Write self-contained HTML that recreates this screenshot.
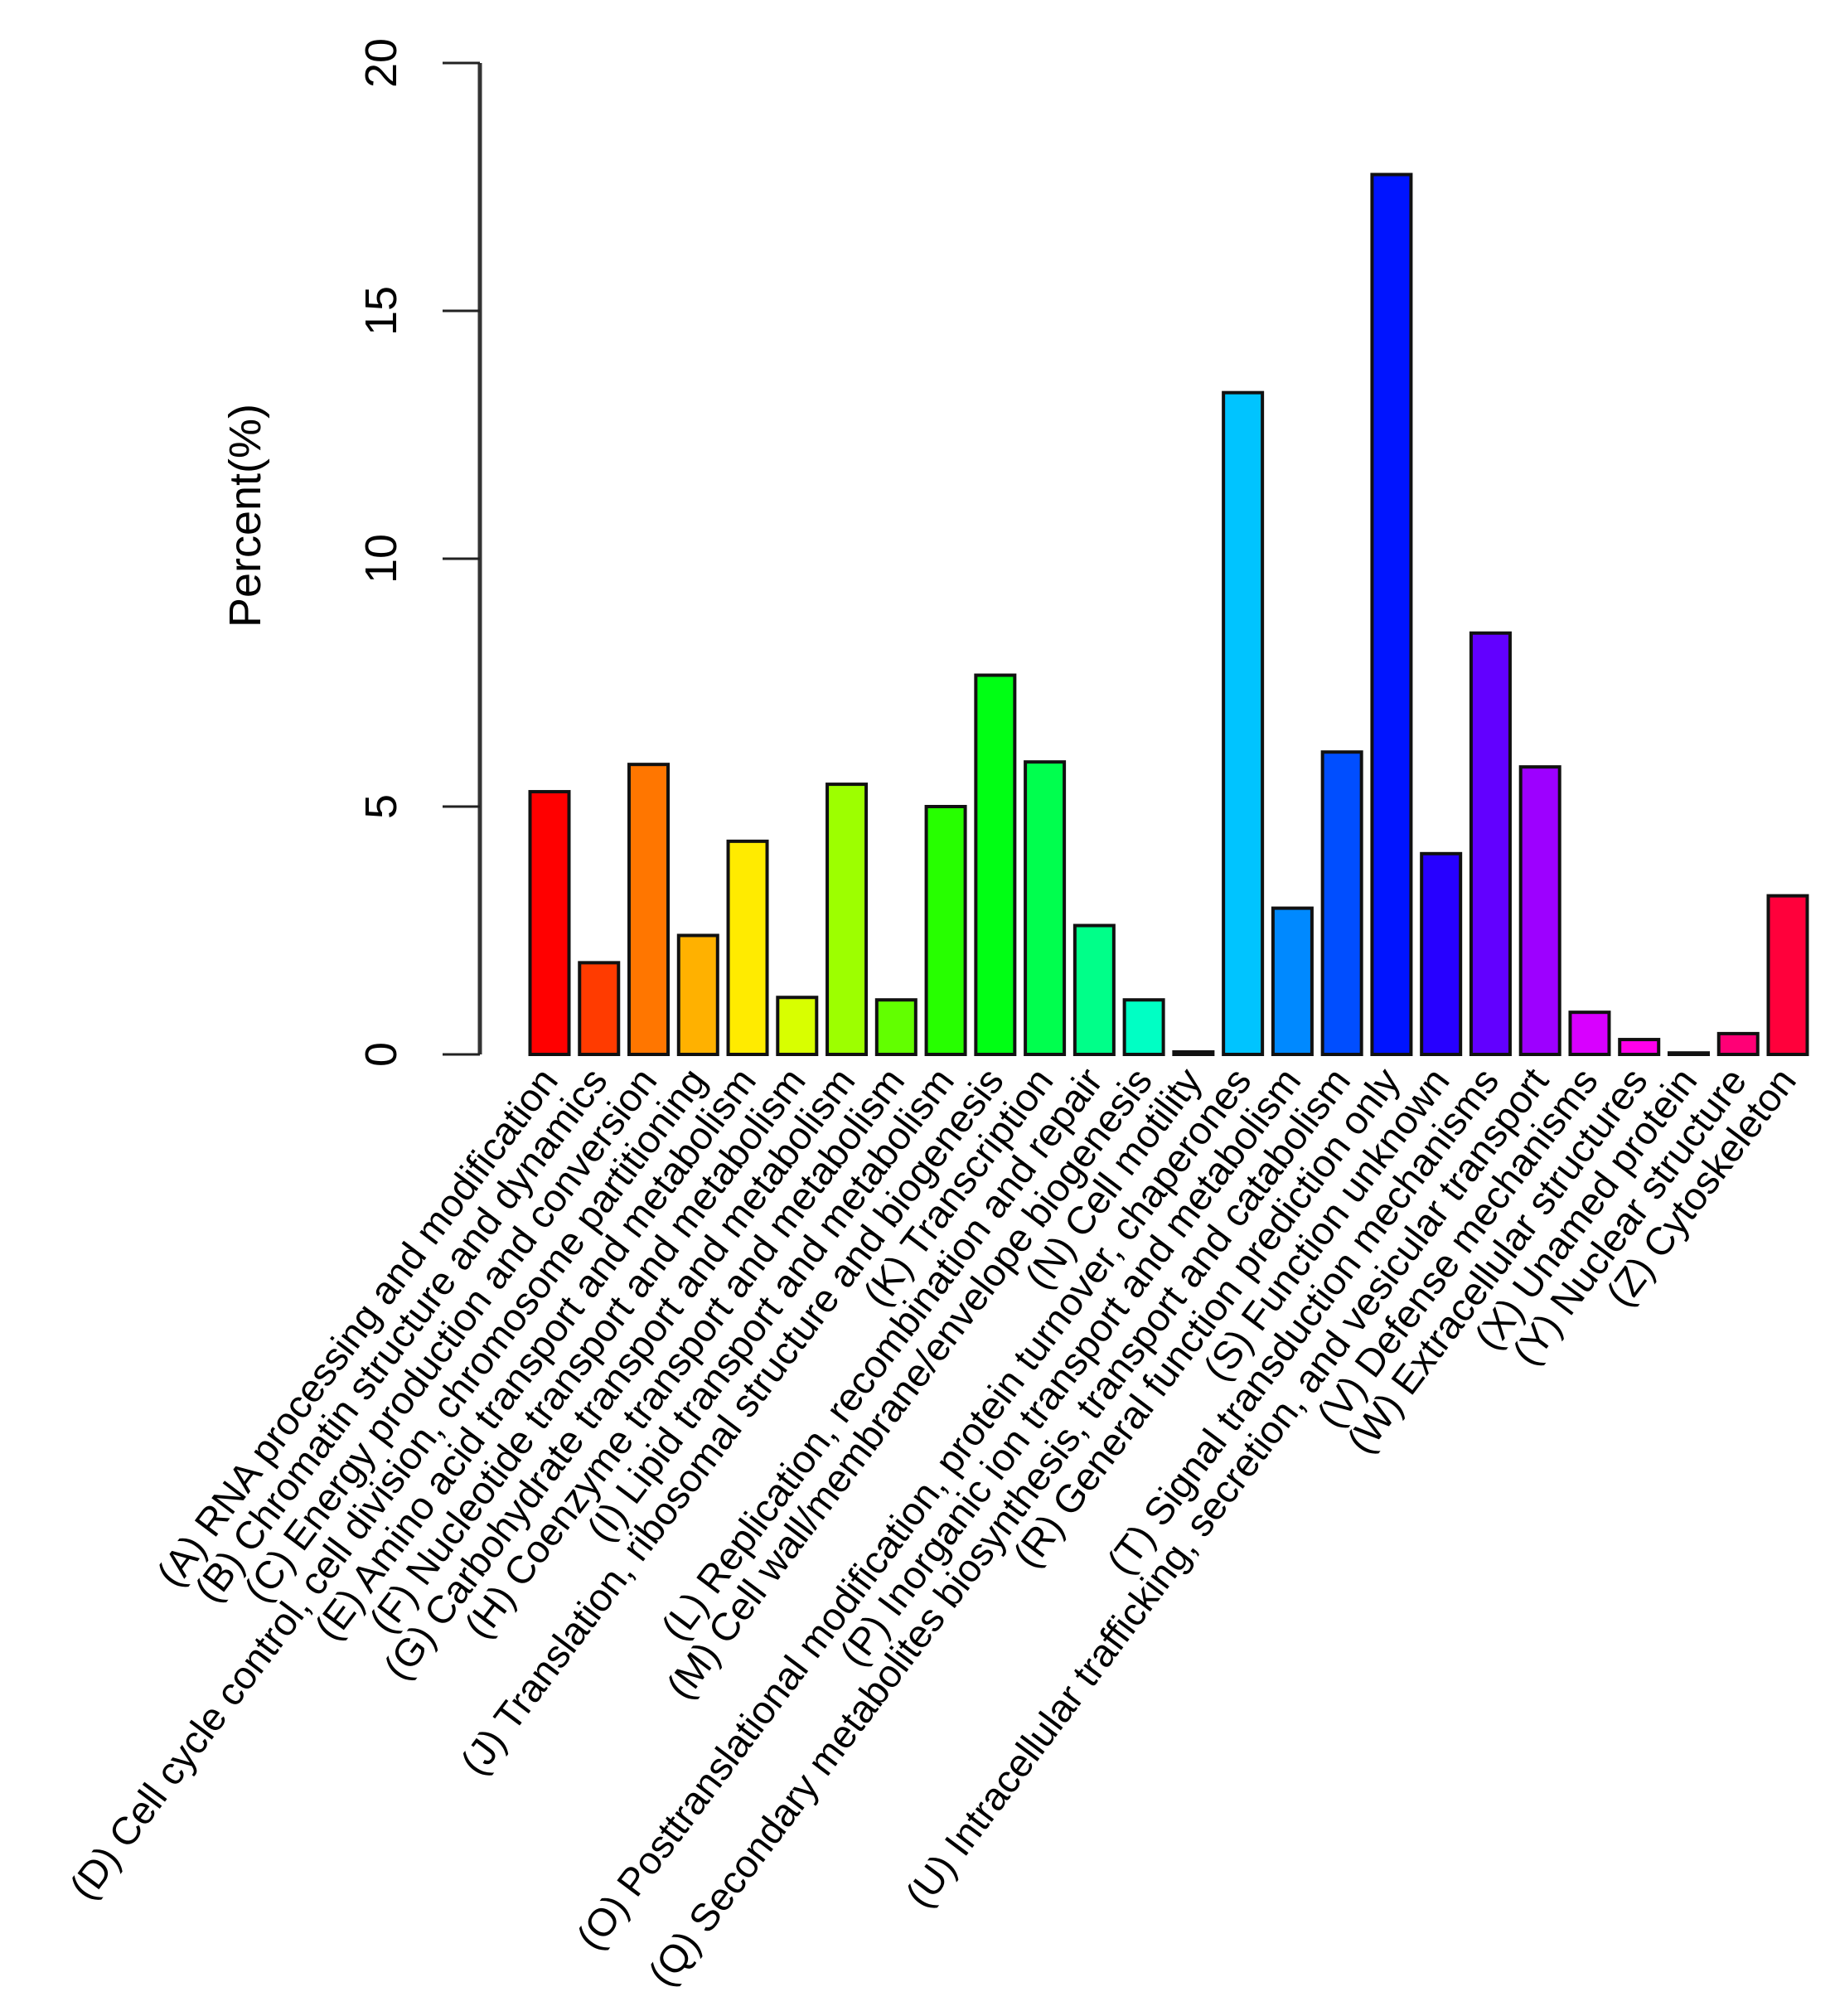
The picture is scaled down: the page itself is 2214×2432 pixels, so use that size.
<!DOCTYPE html>
<html><head><meta charset="utf-8"><style>
html,body{margin:0;padding:0;background:#fff;}
svg{display:block;font-family:"Liberation Sans",Arial,sans-serif;}
</style></head><body>
<svg id="chart" width="2214" height="2432" viewBox="0 0 2214 2432" xmlns="http://www.w3.org/2000/svg">
<g id="axis"></g>
<g id="bars"></g>
<g id="labels"></g>
<text x="0" y="0" font-size="54" text-anchor="middle" transform="translate(314,622) rotate(-90)">Percent(%)</text>
</svg>
<script>
const categories = ["(A) RNA processing and modification","(B) Chromatin structure and dynamics","(C) Energy production and conversion","(D) Cell cycle control, cell division, chromosome partitioning","(E) Amino acid transport and metabolism","(F) Nucleotide transport and metabolism","(G) Carbohydrate transport and metabolism","(H) Coenzyme transport and metabolism","(I) Lipid transport and metabolism","(J) Translation, ribosomal structure and biogenesis","(K) Transcription","(L) Replication, recombination and repair","(M) Cell wall/membrane/envelope biogenesis","(N) Cell motility","(O) Posttranslational modification, protein turnover, chaperones","(P) Inorganic ion transport and metabolism","(Q) Secondary metabolites biosynthesis, transport and catabolism","(R) General function prediction only","(S) Function unknown","(T) Signal transduction mechanisms","(U) Intracellular trafficking, secretion, and vesicular transport","(V) Defense mechanisms","(W) Extracellular structures","(X) Unamed protein","(Y) Nuclear structure","(Z) Cytoskeleton"];
const values = [5.3,1.85,5.85,2.4,4.3,1.15,5.45,1.1,5.0,7.65,5.9,2.6,1.1,0.05,13.35,2.95,6.1,17.75,4.05,8.5,5.8,0.85,0.3,0.03,0.42,3.2];
const tickValues = [0,5,10,15,20];
const tickLabels = ["0","5","10","15","20"];

const NS="http://www.w3.org/2000/svg";
const y0=1272, y20=76, axisX=579, firstX=663, step=59.76, barW=47;
const yScale=v=>y0-(v/20)*(y0-y20);
const xScale=i=>firstX+i*step;
function mk(tag,attrs,parent){const e=document.createElementNS(NS,tag);for(const k in attrs)e.setAttribute(k,attrs[k]);parent.appendChild(e);return e;}
const axis=document.getElementById('axis');
const line=mk('line',{x1:axisX,x2:axisX,y1:yScale(0),y2:yScale(20),stroke:'#333','stroke-width':5},axis);


tickValues.forEach((t,i)=>{
  const tk=mk('line',{x1:axisX-45,x2:axisX,y1:yScale(t),y2:yScale(t),stroke:'#222','stroke-width':3},axis);
  
  
  const tl=mk('text',{x:0,y:0,'font-size':54,'text-anchor':'middle',transform:`translate(478,${yScale(t)}) rotate(-90)`},axis);
  tl.textContent=tickLabels[i];
  
  
});
const bars=document.getElementById('bars'), labels=document.getElementById('labels');
values.forEach((v,i)=>{
  const cx=xScale(i), yt=yScale(v);
  const r=mk('rect',{x:cx-barW/2,y:yt,width:barW,height:Math.max(y0-yt,0.5),fill:`hsl(${i*360/26},100%,50%)`,stroke:'#111','stroke-width':4},bars);
  
  
  const t=mk('text',{x:0,y:0,'font-size':47,'text-anchor':'end',transform:`translate(${cx+12},${y0+32}) rotate(-53)`},labels);
  t.textContent=categories[i];
  
  
});
</script>
</body></html>
